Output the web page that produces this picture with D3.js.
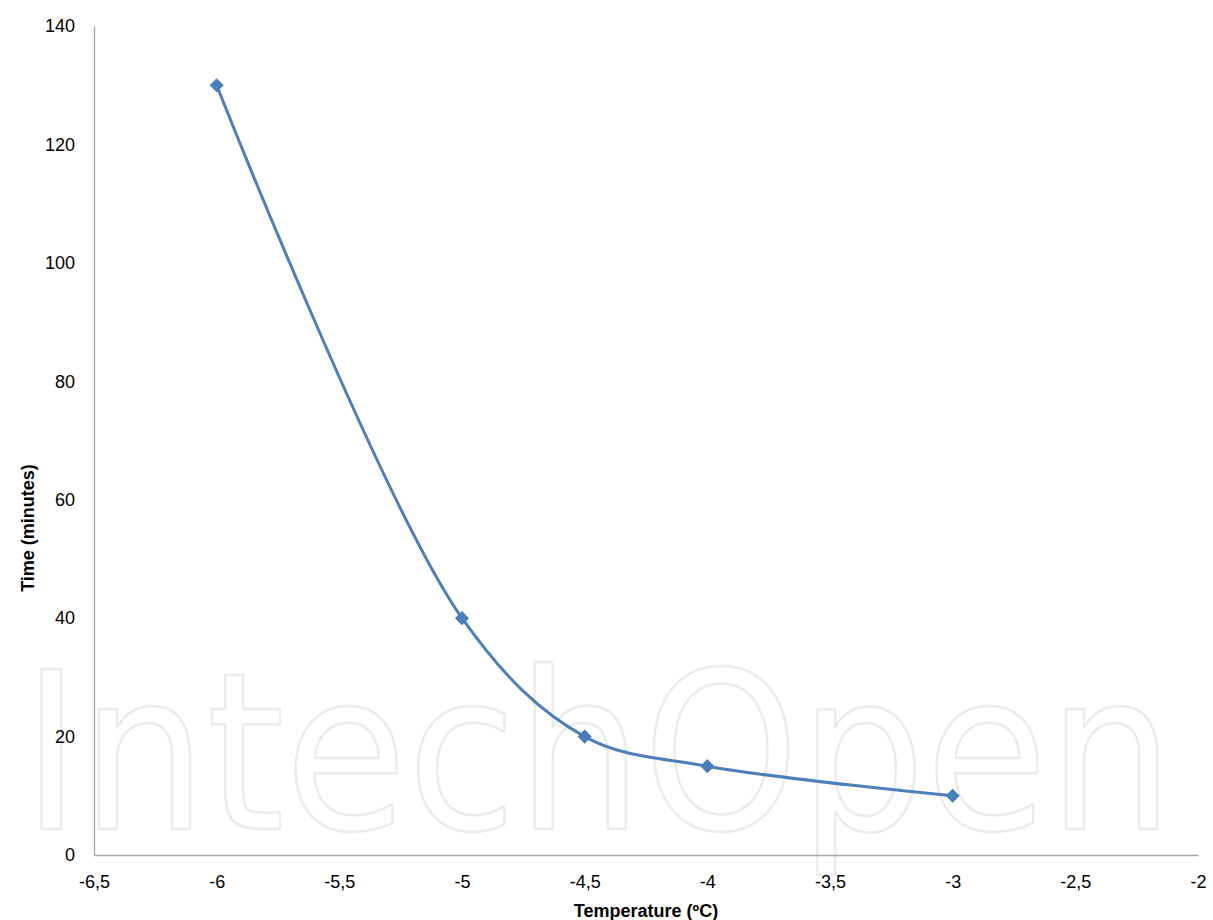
<!DOCTYPE html>
<html>
<head>
<meta charset="utf-8">
<script src="https://cdn.jsdelivr.net/npm/d3@7"></script>
<style>
  body { margin: 0; background: #fff; }
  text { font-family: "Liberation Sans", Arial, sans-serif; }
</style>
</head>
<body>
<svg id="chart" width="1213" height="920"></svg>
<script>
// data
var temps = [-6, -5, -4.5, -4, -3];
var times = [130, 40, 20, 15, 10];
var xTicks = [-6.5, -6, -5.5, -5, -4.5, -4, -3.5, -3, -2.5, -2];
var yTicks = [0, 20, 40, 60, 80, 100, 120, 140];

var svg = d3.select("#chart");
var plotLeft = 94, plotRight = 1198, plotTop = 26, plotBottom = 855;

var x = d3.scaleLinear().domain([-6.5, -2]).range([plotLeft, plotRight]);
var y = d3.scaleLinear().domain([0, 140]).range([plotBottom, plotTop]);

// watermark
svg.append("text")
    .attr("x", 22)
    .attr("y", 829)
    .attr("textLength", 1152)
    .attr("lengthAdjust", "spacingAndGlyphs")
    .style("font-family", "'DejaVu Sans', sans-serif")
    .style("font-weight", 400)
    .style("font-size", "220px")
    .style("fill", "none")
    .style("stroke", "#ebebeb")
    .style("stroke-width", 2.5)
    .style("stroke-linejoin", "round")
    .text("IntechOpen");

// axes
var fmt = function(d) { return String(d).replace(".", ","); };

var xAxis = svg.append("g")
    .attr("transform", "translate(0," + plotBottom + ")")
    .call(d3.axisBottom(x).tickValues(xTicks).tickSize(0).tickPadding(20).tickFormat(fmt));
var yAxis = svg.append("g")
    .attr("transform", "translate(" + plotLeft + ",0)")
    .call(d3.axisLeft(y).tickValues(yTicks).tickSize(0).tickPadding(19));

[xAxis, yAxis].forEach(function(a) {
    a.select(".domain").attr("stroke", "#a6a6a6").attr("stroke-width", 1.3);
    a.selectAll("text")
        .style("font-family", "'Liberation Sans', Arial, sans-serif")
        .style("font-size", "18px")
        .style("fill", "#000");
});

// axis titles
svg.append("text")
    .attr("x", 646)
    .attr("y", 917)
    .attr("text-anchor", "middle")
    .style("font-size", "18px")
    .style("font-weight", "bold")
    .text("Temperature (ºC)");

svg.append("text")
    .attr("transform", "translate(34,528) rotate(-90)")
    .attr("text-anchor", "middle")
    .style("font-size", "18px")
    .style("font-weight", "bold")
    .text("Time (minutes)");

// series
var pts = temps.map(function(t, i) { return {t: t, v: times[i]}; });

var line = d3.line()
    .x(function(d) { return x(d.t); })
    .y(function(d) { return y(d.v); })
    .curve(d3.curveCatmullRom.alpha(0.5));

svg.append("path")
    .datum(pts)
    .attr("d", line)
    .style("fill", "none")
    .style("stroke", "#4f7fb9")
    .style("stroke-width", 3);

svg.selectAll("path.pt").data(pts).enter().append("path")
    .attr("class", "pt")
    .attr("d", d3.symbol().type(d3.symbolSquare).size(100))
    .attr("transform", function(d) { return "translate(" + x(d.t) + "," + y(d.v) + ") rotate(45)"; })
    .style("fill", "#4a7ebb");
</script>
</body>
</html>
